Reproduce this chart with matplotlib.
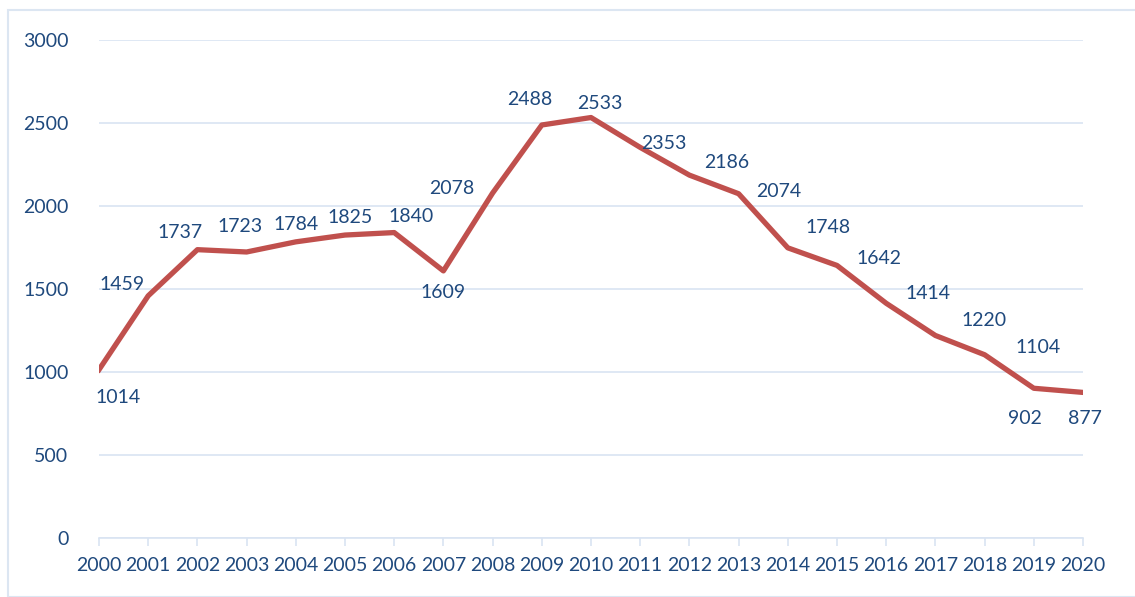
import matplotlib.pyplot as plt
from matplotlib.patches import Rectangle

years = list(range(2000, 2021))
values = [1014, 1459, 1737, 1723, 1784, 1825, 1840, 1609, 2078, 2488, 2533,
          2353, 2186, 2074, 1748, 1642, 1414, 1220, 1104, 902, 877]
y_ticks = [0, 500, 1000, 1500, 2000, 2500, 3000]

# label offsets in pixels (dx, dy)
offsets = [(19, -28), (-26, 11), (-17, 17), (-7, 25), (0, 17), (5, 18), (17, 16),
           (0, -22), (-41, 5), (-12, 25), (9, 14), (24, 4), (37, 13), (40, 2),
           (40, 20), (42, 7), (42, 10), (49, 15), (53, 7), (-9, -30), (2, -26)]

plt.rcParams['font.family'] = ['Lato', 'DejaVu Sans']
txt = '#1F497D'
grid = '#D9E4F2'

fig = plt.figure(figsize=(11.35, 5.97), dpi=100)
fig.patches.append(Rectangle((8 / 1135, 0), 1.2, 1 - 10 / 597, transform=fig.transFigure,
                             fill=False, edgecolor='#DCE6F2', lw=1.5))
ax = fig.add_axes([99 / 1135, 1 - 538 / 597, (1083 - 99) / 1135, (538 - 40) / 597])

ax.plot(years, values, color='#C0504D', lw=3.8, solid_joinstyle='round', zorder=3)
for x, v, (dx, dy) in zip(years, values, offsets):
    ax.annotate(str(v), (x, v), xytext=(dx, dy), textcoords='offset pixels',
                ha='center', va='center', fontsize=14, color=txt)

ax.set_xlim(2000, 2020)
ax.set_ylim(0, 3000)
ax.set_xticks(years)
ax.set_yticks(y_ticks)
ax.tick_params(axis='x', colors=grid, length=6, width=1.2, labelcolor=txt, labelsize=14, pad=8)
ax.tick_params(axis='y', length=0, labelcolor=txt, labelsize=14, pad=22)
ax.yaxis.grid(True, color=grid, lw=1.2)
ax.set_axisbelow(True)
for s in ['top', 'right', 'left']:
    ax.spines[s].set_visible(False)
ax.spines['bottom'].set_color(grid)
ax.spines['bottom'].set_linewidth(1.2)

fig.savefig('out.png', dpi=100)
